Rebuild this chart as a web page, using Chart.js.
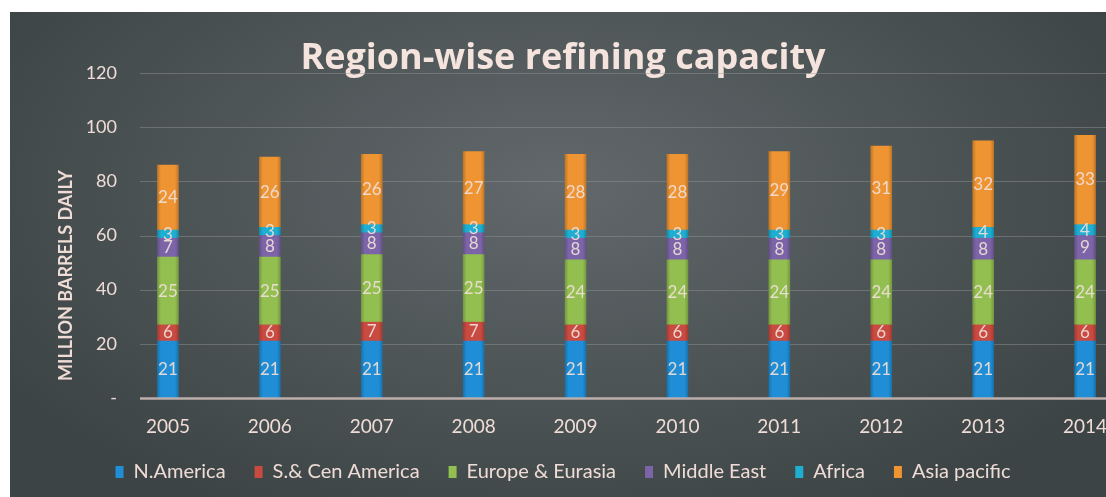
<!DOCTYPE html>
<html lang="en">
<head>
    <meta charset="UTF-8">
    <title>Region-wise refining capacity</title>
    <script src="https://cdn.jsdelivr.net/npm/chart.js@4.4.1/dist/chart.umd.min.js"></script>
    <style>
        html, body {
            margin: 0;
            padding: 0;
            background: #ffffff;
            overflow: hidden;
        }

        #panel {
            position: absolute;
            left: 10px;
            top: 12px;
            width: 1096px;
            height: 485px;
            overflow: hidden;
            background: radial-gradient(ellipse 60% 75% at 50% 36%, #62686b 0%, #51585a 45%, #3c4446 100%);
        }

        #box {
            position: absolute;
            left: -20px;
            top: 0;
            width: 1146px;
            height: 485px;
        }
    </style>
</head>
<body>
    <div id="panel">
        <div id="box"><canvas id="refChart"></canvas></div>
    </div>

    <script>
        const years = ['2005', '2006', '2007', '2008', '2009', '2010', '2011', '2012', '2013', '2014'];
        const nAmerica      = [21, 21, 21, 21, 21, 21, 21, 21, 21, 21];
        const sCenAmerica   = [6, 6, 7, 7, 6, 6, 6, 6, 6, 6];
        const europeEurasia = [25, 25, 25, 25, 24, 24, 24, 24, 24, 24];
        const middleEast    = [7, 8, 8, 8, 8, 8, 8, 8, 8, 9];
        const africa        = [3, 3, 3, 3, 3, 3, 3, 3, 4, 4];
        const asiaPacific   = [24, 26, 26, 27, 28, 28, 29, 31, 32, 33];
        const yMax = 120;
        const yStep = 20;

        const textColor = '#efdcd6';
        const fontName = 'Lato, "DejaVu Sans", sans-serif';

        function shade(hex, f) {
            const n = parseInt(hex.slice(1), 16);
            let r = (n >> 16) & 255, g = (n >> 8) & 255, b = n & 255;
            r = Math.round(r * f); g = Math.round(g * f); b = Math.round(b * f);
            return `rgb(${r}, ${g}, ${b})`;
        }

        // horizontal gel-like gradient across each bar
        function gel(base) {
            return function(ctx) {
                const chart = ctx.chart;
                const xs = chart.scales.x;
                if (!chart.chartArea || !xs || ctx.dataIndex === undefined) return base;
                const cx = xs.getPixelForValue(ctx.dataIndex);
                const g = chart.ctx.createLinearGradient(cx - 11, 0, cx + 11, 0);
                g.addColorStop(0, shade(base, 0.78));
                g.addColorStop(0.18, base);
                g.addColorStop(0.82, base);
                g.addColorStop(1, shade(base, 0.78));
                return g;
            };
        }

        const series = [
            { label: 'N.America', data: nAmerica, color: '#1f8ed6' },
            { label: 'S.& Cen America', data: sCenAmerica, color: '#c94a40' },
            { label: 'Europe & Eurasia', data: europeEurasia, color: '#92bf50' },
            { label: 'Middle East', data: middleEast, color: '#7c64a8' },
            { label: 'Africa', data: africa, color: '#1eaed2' },
            { label: 'Asia pacific', data: asiaPacific, color: '#ee9432' }
        ];

        // numbers written in the middle of each stacked segment
        const segmentLabels = {
            id: 'segmentLabels',
            afterDatasetsDraw(chart) {
                const ctx = chart.ctx;
                ctx.save();
                ctx.font = '17px ' + fontName;
                ctx.fillStyle = 'rgba(240, 222, 216, 0.92)';
                ctx.textAlign = 'center';
                ctx.textBaseline = 'middle';
                chart.data.datasets.forEach((ds, i) => {
                    const meta = chart.getDatasetMeta(i);
                    meta.data.forEach((bar, j) => {
                        const y = (bar.y + bar.base) / 2;
                        ctx.fillText(String(ds.data[j]), bar.x, y);
                    });
                });
                ctx.restore();
            }
        };

        // grid lines, axis line and rotated axis title, drawn like the office chart
        const frame = {
            id: 'frame',
            afterLayout(chart) {
                // let the year labels spill a bit into the legend band without being clipped
                const xs = chart.scales.x;
                xs.bottom = xs.top + 48;
            },
            beforeDatasetsDraw(chart) {
                const ctx = chart.ctx;
                const ys = chart.scales.y;
                const area = chart.chartArea;
                const left = area.left + 23;
                ctx.save();
                ys.ticks.forEach(t => {
                    if (t.value === 0) return;
                    const y = Math.round(ys.getPixelForValue(t.value)) + 0.5;
                    ctx.strokeStyle = 'rgba(150, 150, 150, 0.45)';
                    ctx.lineWidth = 1;
                    ctx.beginPath();
                    ctx.moveTo(left, y);
                    ctx.lineTo(area.right, y);
                    ctx.stroke();
                });
                ctx.restore();
            },
            afterDatasetsDraw(chart) {
                const ctx = chart.ctx;
                const ys = chart.scales.y;
                const area = chart.chartArea;
                const y0 = ys.getPixelForValue(0);
                ctx.save();
                ctx.strokeStyle = '#bcaeab';
                ctx.lineWidth = 2.5;
                ctx.beginPath();
                ctx.moveTo(area.left + 23, y0 + 0.5);
                ctx.lineTo(area.right, y0 + 0.5);
                ctx.stroke();

                ctx.translate(76, (area.top + area.bottom) / 2 + 40);
                ctx.rotate(-Math.PI / 2);
                ctx.font = 'bold 18px ' + fontName;
                ctx.fillStyle = textColor;
                ctx.textAlign = 'center';
                ctx.textBaseline = 'middle';
                ctx.fillText('MILLION BARRELS DAILY', 0, 0);
                ctx.restore();
            }
        };

        const ctx = document.getElementById('refChart').getContext('2d');
        const chart = new Chart(ctx, {
            type: 'bar',
            data: {
                labels: years,
                datasets: series.map(s => ({
                    label: s.label,
                    data: s.data,
                    backgroundColor: gel(s.color),
                    borderWidth: 0,
                    barThickness: 21
                }))
            },
            options: {
                responsive: true,
                maintainAspectRatio: false,
                animation: false,
                layout: {
                    padding: { left: 0, right: 0, top: 0, bottom: 5 }
                },
                plugins: {
                    title: {
                        display: true,
                        text: 'Region-wise refining capacity',
                        color: '#f5e4de',
                        font: { family: '"Open Sans", Lato, sans-serif', size: 36, weight: 'bold', lineHeight: 1 },
                        padding: { top: 29, bottom: -4 }
                    },
                    legend: {
                        position: 'bottom',
                        labels: {
                            color: textColor,
                            font: { family: fontName, size: 20 },
                            boxWidth: 8,
                            boxHeight: 12,
                            padding: 29,
                            generateLabels(chart) {
                                return series.map((s, i) => ({
                                    text: s.label,
                                    fillStyle: s.color,
                                    strokeStyle: s.color,
                                    lineWidth: 0,
                                    fontColor: textColor,
                                    datasetIndex: i,
                                    hidden: false
                                }));
                            }
                        }
                    },
                    tooltip: { enabled: false }
                },
                scales: {
                    x: {
                        stacked: true,
                        grid: { display: false, drawTicks: false },
                        border: { display: false },
                        ticks: {
                            color: textColor,
                            font: { family: fontName, size: 19 },
                            padding: 17
                        },
                        afterFit(scale) {
                            scale.height = 35;
                        }
                    },
                    y: {
                        stacked: true,
                        min: 0,
                        max: yMax,
                        grid: { display: false, drawTicks: false },
                        border: { display: false },
                        ticks: {
                            stepSize: yStep,
                            color: textColor,
                            font: { family: fontName, size: 18 },
                            padding: 0,
                            callback: v => v === 0 ? '-' : v
                        },
                        afterFit(scale) {
                            scale.width = 127;
                        }
                    }
                }
            },
            plugins: [frame, segmentLabels]
        });
    </script>
</body>
</html>
